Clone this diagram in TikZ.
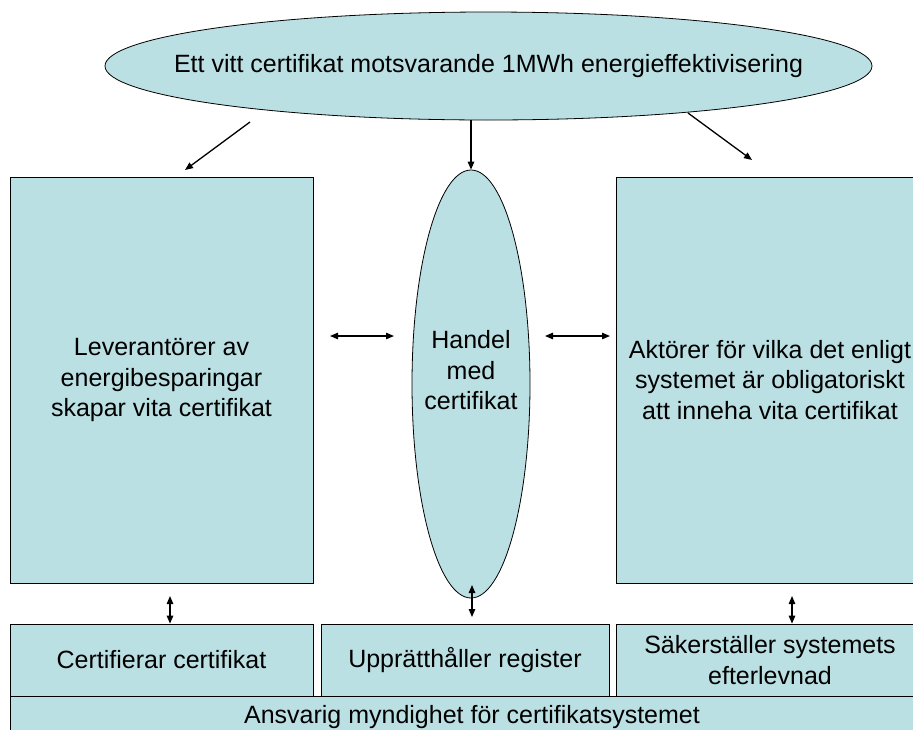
\documentclass[tikz,border=0pt]{standalone}
\usepackage{fontspec}
\setmainfont{Liberation Sans}
\usetikzlibrary{positioning,calc,shapes,arrows.meta}
\definecolor{cfill}{RGB}{187,224,227}
\tikzstyle{box}=[rectangle,draw=black,fill=cfill,line width=0.8pt,inner sep=2pt,align=center]
\tikzstyle{oval}=[ellipse,draw=black,fill=cfill,line width=0.8pt,inner sep=0pt,align=center]
\tikzstyle{arr}=[line width=1.3pt,>={Triangle[length=8pt,width=6.5pt]}]

\begin{document}
\begin{tikzpicture}[x=1pt,y=-1pt,font=\fontsize{25}{30.5}\selectfont]
  \clip (0,0) rectangle (913,729);
  \fill[white] (0,0) rectangle (913,729);

  \node [oval,inner xsep=-70pt,minimum width=767,minimum height=108] at (488.5,66) (top)
    {Ett vitt certifikat motsvarande 1MWh energieffektivisering};
  \node [box,minimum width=303,minimum height=406] at (161.5,380) (lev)
    {Leverantörer av\\energibesparingar\\skapar vita certifikat};
  \node [oval,inner xsep=-10pt,minimum width=118,minimum height=428,text depth=28pt] at (471,384) (handel)
    {Handel\\med\\certifikat};
  \node [box,minimum width=308,minimum height=406] at (770,380) (akt)
    {Aktörer för vilka det enligt\\systemet är obligatoriskt\\att inneha vita certifikat};

  \node [box,minimum width=303,minimum height=72] at (161.5,660) (cert)
    {Certifierar certifikat};
  \node [box,minimum width=288,minimum height=72] at (465,660) (reg)
    {Upprätthåller register};
  \node [box,minimum width=308,minimum height=72] at (770,660) (sak)
    {Säkerställer systemets\\efterlevnad};
  \node [box,minimum width=924,minimum height=42] at (472,717) (ansv)
    {Ansvarig myndighet för certifikatsystemet};

  \coordinate (t1) at (250,122);
  \coordinate (l1) at (185,170);
  \coordinate (t3) at (688,113);
  \coordinate (r1) at (752,160);
  \coordinate (h1) at (330,336);
  \coordinate (h2) at (394,336);
  \coordinate (h3) at (545,336);
  \coordinate (h4) at (610,336);
  \coordinate (v1) at (170,596);
  \coordinate (v2) at (472,585);
  \coordinate (v3) at (472,617);
  \coordinate (v4) at (792,596);

  \draw [arr,->] (t1) -- (l1);
  \draw [arr,->] (handel.north |- top.south) -- (handel.north);
  \draw [arr,->] (t3) -- (r1);

  \draw [arr,<->] (h1) -- (h2);
  \draw [arr,<->] (h3) -- (h4);

  \draw [arr,<->] (v1) -- (v1 |- cert.north);
  \draw [arr,<->] (v2) -- (v3);
  \draw [arr,<->] (v4) -- (v4 |- sak.north);
\end{tikzpicture}
\end{document}
